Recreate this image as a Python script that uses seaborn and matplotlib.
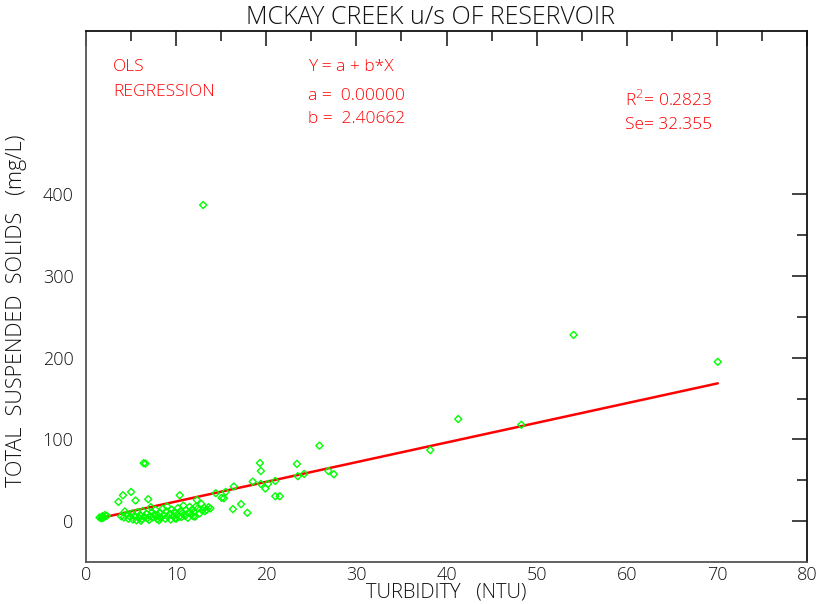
import matplotlib
matplotlib.use("Agg")
import matplotlib.pyplot as plt
import seaborn as sns
import numpy as np
import pandas as pd

# Turbidity (NTU) and total suspended solids (mg/L) samples
turbidity = [
    1.5, 1.7, 1.8, 2.0, 2.1, 1.9, 2.3,
    3.6, 4.1, 5.0, 5.5, 6.9, 7.2, 6.4, 6.6, 4.3, 10.4, 12.3, 12.8, 13.6,
    13.2, 14.4, 15.05, 15.3, 15.5, 13.0,
    3.9, 4.2, 4.5, 4.7, 4.9, 5.1, 5.2, 5.4, 5.6, 5.7, 5.9, 6.0, 6.2, 6.3,
    6.5, 6.7, 6.8, 7.0, 7.1, 7.3, 7.4, 7.6, 7.7, 7.9, 8.0, 8.2, 8.3, 8.5,
    8.6, 8.8, 8.9, 9.0, 9.1, 9.3, 9.4, 9.5, 9.7, 9.8, 9.9, 10.1, 10.2, 10.3,
    10.5, 10.6, 10.7, 10.8, 11.0, 11.1, 11.3, 11.4, 11.5, 11.7, 11.8, 12.0,
    12.1, 12.4, 12.6, 12.9, 13.1, 13.4, 13.8, 12.2, 10.0, 8.1, 6.1, 11.9,
    16.3, 16.4, 17.2, 17.9, 18.5, 19.3, 19.4, 19.4, 19.9, 20.2, 21.0, 21.0,
    21.5, 23.4, 23.5, 24.2, 25.9, 26.9, 27.5,
    38.2, 41.3, 48.3, 54.1, 70.1,
]
tss = [
    4.5, 3.5, 6.0, 5.0, 7.5, 4.0, 6.5,
    23.6, 31.7, 35.8, 25.3, 26.9, 17.1, 71.0, 70.5, 11.8, 31.7, 26.0, 21.1, 17.1,
    12.2, 34.2, 28.5, 28.0, 35.8, 387.0,
    6.0, 4.5, 8.0, 3.0, 5.5, 9.5, 2.0, 6.5, 1.0, 11.0, 4.0, 7.5, 2.5, 12.5,
    5.0, 9.0, 3.5, 1.5, 6.0, 11.0, 4.5, 8.0, 14.0, 2.5, 6.5, 10.0, 4.0, 15.0,
    7.5, 3.0, 12.0, 18.0, 5.5, 9.0, 2.0, 14.0, 6.0, 11.0, 3.5, 8.0, 16.0, 5.0,
    12.5, 5.0, 9.5, 19.0, 6.5, 13.5, 4.0, 10.5, 17.5, 8.0, 14.5, 11.0,
    5.5, 15.5, 9.5, 13.0, 16.5, 14.0, 15.5, 18.0, 3.0, 1.0, 0.5, 6.0,
    14.7, 42.4, 20.8, 10.2, 48.4, 71.2, 61.4, 45.6, 39.9, 45.6, 49.2, 30.5,
    30.5, 70.0, 55.0, 57.8, 92.4, 61.4, 57.4,
    87.0, 125.0, 118.0, 228.0, 195.0,
]

# Regression summary
coef_a = 0.0
coef_b = 2.40662
r_squared = 0.2823
std_err = 32.355

x_ticks = [0, 10, 20, 30, 40, 50, 60, 70, 80]
y_ticks = [0, 100, 200, 300, 400]

df = pd.DataFrame({"turbidity": turbidity, "tss": tss})
fit_x = [min(turbidity), max(turbidity)]
fit = pd.DataFrame({"x": fit_x, "y": [coef_a + coef_b * v for v in fit_x]})

sns.set_style("white")
plt.rcParams["font.family"] = ["Open Sans", "DejaVu Sans"]
plt.rcParams["font.weight"] = "light"
plt.rcParams["axes.labelweight"] = "light"

fig = plt.figure(figsize=(8.18, 6.04), dpi=100)
ax = fig.add_axes([86 / 818, 42 / 604, 721 / 818, 531 / 604])

sns.lineplot(data=fit, x="x", y="y", ax=ax, color="#ff0000", linewidth=1.8,
             zorder=2, legend=False)
sns.scatterplot(data=df, x="turbidity", y="tss", ax=ax, marker="D",
                facecolor="none", edgecolor="#00ff00", s=13, linewidth=1.0,
                zorder=3, legend=False)

ax.set_xlim(0, 80)
ax.set_ylim(-50, 600)
ax.set_xticks(x_ticks)
ax.set_xticks(np.arange(5, 80, 10), minor=True)
ax.set_yticks(y_ticks)
ax.set_yticks(np.arange(50, 400, 100), minor=True)
ax.set_xticklabels([str(v) for v in x_ticks])
ax.set_yticklabels([str(v) for v in y_ticks])

txt = "#111111"
ax.tick_params(axis="both", which="both", direction="in", colors=txt,
               labelsize=13, top=True, right=True)
ax.tick_params(axis="both", which="major", length=11, width=1.1)
ax.tick_params(axis="both", which="minor", length=7, width=1.1)
ax.tick_params(axis="x", pad=3)
ax.tick_params(axis="y", pad=9)

for side in ("left", "bottom"):
    ax.spines[side].set_color("#555555")
for side in ("top", "right"):
    ax.spines[side].set_color("#111111")
for s in ax.spines.values():
    s.set_linewidth(1.3)

ax.set_xlabel("TURBIDITY   (NTU)", fontsize=14.5, color=txt)
ax.set_ylabel("TOTAL  SUSPENDED  SOLIDS   (mg/L)", fontsize=15.5, color=txt)
ax.xaxis.set_label_coords(0.5, -0.039)
ax.yaxis.set_label_coords(-0.082, 0.473)

fig.text(431 / 818, 1 - 17 / 604, "MCKAY CREEK u/s OF RESERVOIR",
         ha="center", va="center", fontsize=18, color=txt)

red = "#ff0000"
kw = dict(transform=ax.transAxes, color=red, fontsize=12.5, va="center",
          ha="left")
ax.text(0.0374, 0.932, "OLS", **kw)
ax.text(0.0374, 0.885, "REGRESSION", **kw)
ax.text(0.308, 0.932, "Y = a + b*X", **kw)
ax.text(0.308, 0.878, f"a =  {coef_a:.5f}", **kw)
ax.text(0.308, 0.834, f"b =  {coef_b:.5f}", **kw)
ax.text(0.7476, 0.870, f"R$^2$= {r_squared:.4f}", **kw)
ax.text(0.7476, 0.823, f"Se= {std_err:.3f}", **kw)

fig.savefig("out.png", dpi=100)
